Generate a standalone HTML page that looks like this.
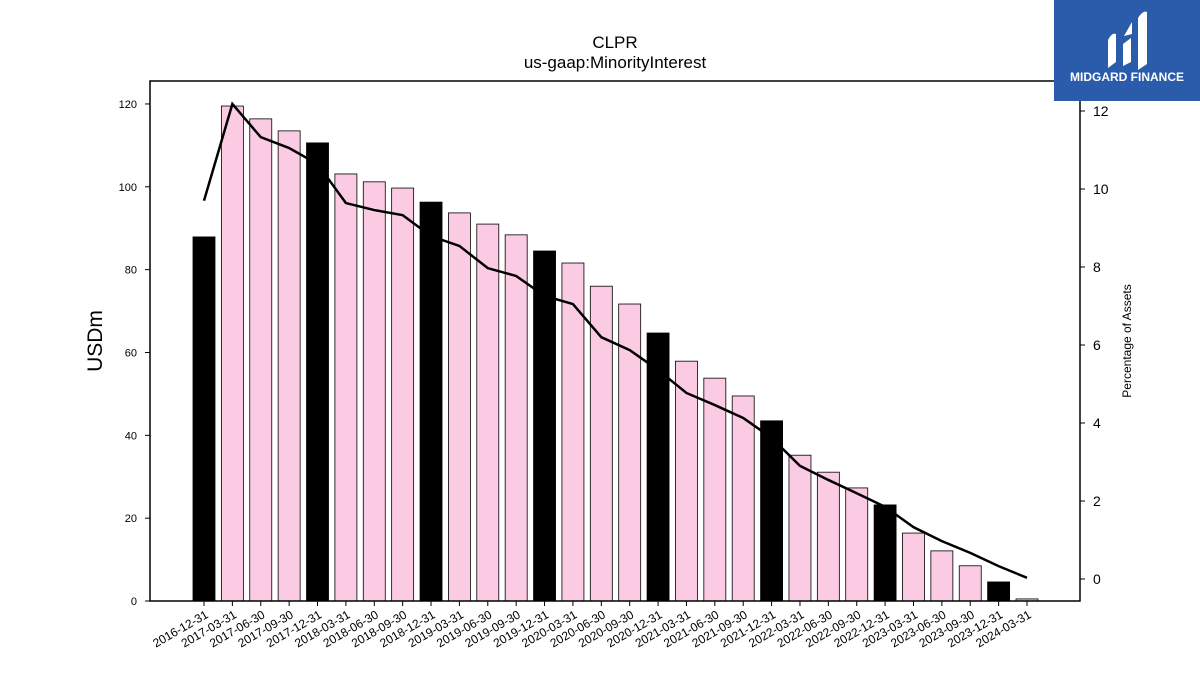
<!DOCTYPE html>
<html><head><meta charset="utf-8"><style>
body{margin:0;background:#fff;font-family:"Liberation Sans","DejaVu Sans",sans-serif;}
</style></head><body>
<svg id="chart" width="1200" height="675" xmlns="http://www.w3.org/2000/svg">
<rect width="1200" height="675" fill="#fff"/>
<text x="615" y="48" font-size="17" text-anchor="middle">CLPR</text>
<text x="615" y="68" font-size="17" text-anchor="middle">us-gaap:MinorityInterest</text>
<text transform="translate(102,341) rotate(-90)" font-size="21" text-anchor="middle">USDm</text>
<text transform="translate(1131,341) rotate(-90)" font-size="12" text-anchor="middle">Percentage of Assets</text>
<g id="bars"></g>
<g id="lineg"></g>
<g id="axes"></g>
<rect x="150" y="81" width="930" height="520" fill="none" stroke="#000" stroke-width="1.5"/>
<g>
<rect x="1054" y="0" width="146" height="101" fill="#2b5cab"/>
<path d="M1108 68 L1108 40 Q1112 32 1116 34 L1116 62 Z M1123 66 L1123 44 L1131 38 L1131 62 Z M1138 70 L1138 18 Q1143 10 1147 12 L1147 64 Z M1124 36 L1132 22 L1132 34 Z" fill="#fff"/>
<text x="1127" y="81" font-size="12" font-weight="bold" fill="#fff" text-anchor="middle">MIDGARD FINANCE</text>
</g>
</svg>
<script>
const categories=["2016-12-31","2017-03-31","2017-06-30","2017-09-30","2017-12-31","2018-03-31","2018-06-30","2018-09-30","2018-12-31","2019-03-31","2019-06-30","2019-09-30","2019-12-31","2020-03-31","2020-06-30","2020-09-30","2020-12-31","2021-03-31","2021-06-30","2021-09-30","2021-12-31","2022-03-31","2022-06-30","2022-09-30","2022-12-31","2023-03-31","2023-06-30","2023-09-30","2023-12-31","2024-03-31"];
const barValues=[87.9,119.5,116.4,113.5,110.6,103.1,101.2,99.7,96.3,93.7,91.0,88.4,84.5,81.6,76.0,71.7,64.7,57.9,53.8,49.5,43.5,35.2,31.1,27.3,23.2,16.4,12.1,8.5,4.6,0.5];
const pctValues=[9.7,12.18,11.33,11.05,10.64,9.64,9.46,9.33,8.79,8.54,7.97,7.77,7.26,7.05,6.2,5.87,5.36,4.77,4.46,4.13,3.62,2.9,2.54,2.2,1.85,1.33,0.97,0.67,0.33,0.03];
const leftTicks=[0,20,40,60,80,100,120];
const rightTicks=[0,2,4,6,8,10,12];
const NS="http://www.w3.org/2000/svg";
const x=i=>204+i*(1027-204)/(categories.length-1);
const yL=v=>601-v*4.142;
const yR=v=>579-v*39;
function mk(t,a,p){const e=document.createElementNS(NS,t);for(const k in a)e.setAttribute(k,a[k]);p.appendChild(e);return e;}
const bars=document.getElementById('bars'),lg=document.getElementById('lineg'),ax=document.getElementById('axes');
barValues.forEach((v,i)=>{
 const dec=categories[i].endsWith('12-31');
 const r=mk('rect',{x:x(i)-11,y:yL(v),width:22,height:601-yL(v),fill:dec?'#000':'#fbcbe3',stroke:'#000','stroke-width':0.8},bars);
 
 
});
const pl=mk('polyline',{points:pctValues.map((v,i)=>x(i)+','+yR(v)).join(' '),fill:'none',stroke:'#000','stroke-width':2.5},lg);


leftTicks.forEach(t=>{
 mk('line',{x1:145,x2:150,y1:yL(t),y2:yL(t),stroke:'#000'},ax);
 const tx=mk('text',{x:137,y:yL(t)+4,'font-size':11,'text-anchor':'end'},ax);tx.textContent=t;
 
 
});
rightTicks.forEach(t=>{
 mk('line',{x1:1080,x2:1085,y1:yR(t),y2:yR(t),stroke:'#000'},ax);
 const tx=mk('text',{x:1093,y:yR(t)+5,'font-size':14},ax);tx.textContent=t;
 
 
});
categories.forEach((c,i)=>{
 mk('line',{x1:x(i),x2:x(i),y1:601,y2:606,stroke:'#000'},ax);
 const tx=mk('text',{transform:`translate(${x(i)+5},${617}) rotate(-30)`,'font-size':12,'text-anchor':'end'},ax);tx.textContent=c;
 
 
});
</script>
</body></html>
